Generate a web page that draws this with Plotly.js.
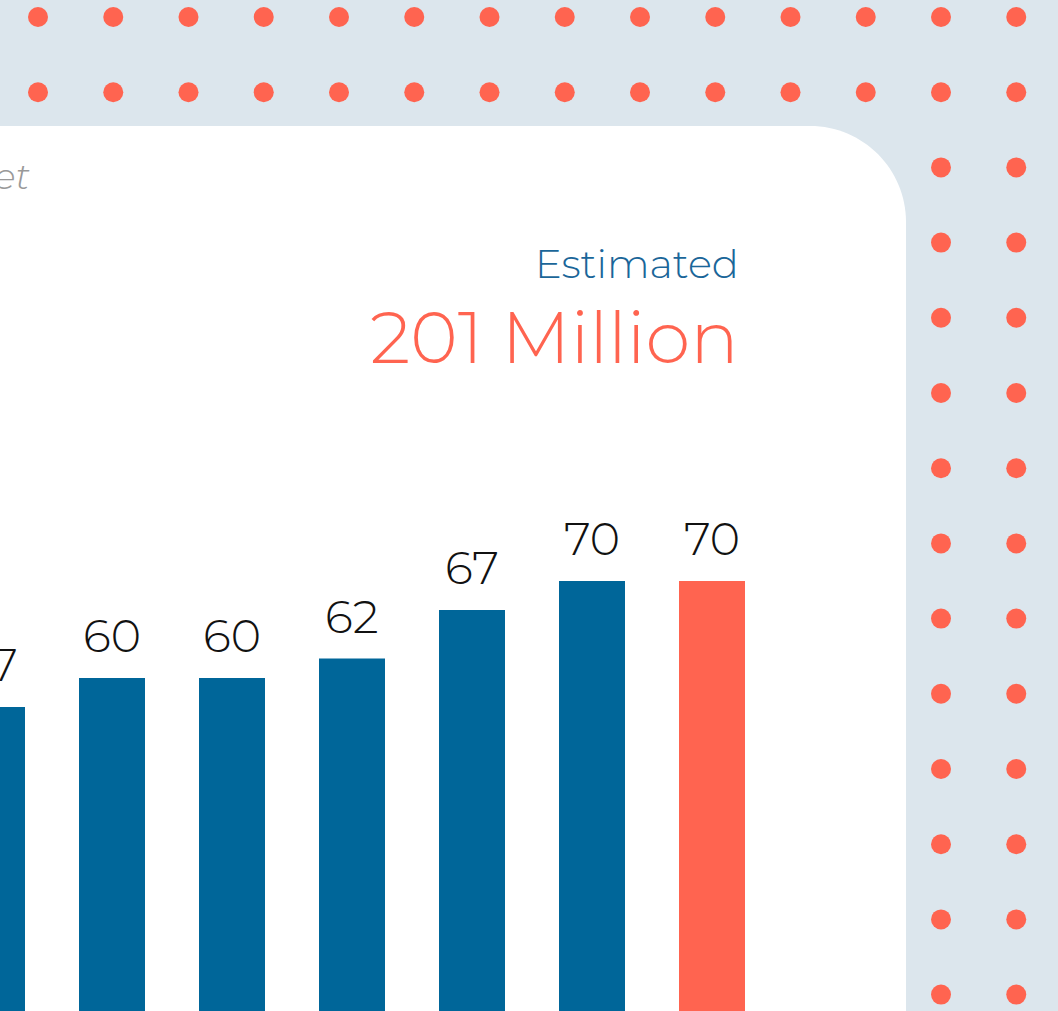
<!DOCTYPE html>
<html>
<head>
<meta charset="utf-8">
<script src="https://cdn.plot.ly/plotly-3.0.1.min.js"></script>
<style>
  html, body { margin: 0; padding: 0; background: #dce6ed; overflow: hidden; width: 1058px; height: 1011px; }
  #chart { width: 1158px; height: 1011px; margin-left: -100px; }
</style>
</head>
<body>
<div id="chart"></div>
<script>
// ---- Data ----
const categories = ["2016", "2017", "2018", "2019", "2020", "2021", "2022"];
const values = [57, 60, 60, 62, 67, 70, 70];
const barColors = ["#006699", "#006699", "#006699", "#006699", "#006699", "#006699", "#ff6450"];
const subtitleTail = "et";
const headlineLabel = "Estimated";
const headlineValue = "201 Million";

// ---- Layout helpers (page pixel -> paper) ----
const OX = 100;               // graph extends 100px left of the visible page
const GW = 1058 + OX, H = 1011;
const px = x => (x + OX) / GW;
const py = y => 1 - y / H;

const FONT = "Montserrat, Inter, 'Noto Sans', sans-serif";

const shapes = [];
// decorative dot grid
const dotStep = 75.2, dotR = 10;
for (let r = 0; r < 14; r++) {
  for (let c = 0; c < 14; c++) {
    const cx = 38 + c * 75.25, cy = 17 + r * dotStep;
    shapes.push({
      type: "circle", xref: "paper", yref: "paper", layer: "below",
      x0: px(cx - dotR), x1: px(cx + dotR), y0: py(cy + dotR), y1: py(cy - dotR),
      fillcolor: "#ff6450", line: { width: 0 }
    });
  }
}
// white panel with rounded top-right corner
const panelTop = 126, panelRight = 906, rad = 96, kk = 0.5523 * rad;
const panelPath = [
  `M ${px(-160)} ${py(1100)}`,
  `L ${px(-160)} ${py(panelTop)}`,
  `L ${px(panelRight - rad)} ${py(panelTop)}`,
  `C ${px(panelRight - rad + kk)} ${py(panelTop)} ${px(panelRight)} ${py(panelTop + rad - kk)} ${px(panelRight)} ${py(panelTop + rad)}`,
  `L ${px(panelRight)} ${py(1100)}`,
  "Z"
].join(" ");
shapes.push({ type: "path", xref: "paper", yref: "paper", layer: "below", path: panelPath, fillcolor: "#ffffff", line: { width: 0 } });

const annotations = [];
values.forEach((v, i) => {
  annotations.push({
    x: i, y: v, xref: "x", yref: "y",
    text: String(v), showarrow: false,
    xanchor: "center", yanchor: "bottom", yshift: 12,
    font: { family: FONT, size: 46, color: "#111111", weight: 300 }
  });
});
annotations.push({
  x: px(741), y: py(263), xref: "paper", yref: "paper", xanchor: "right", yanchor: "middle",
  text: headlineLabel, showarrow: false,
  font: { family: FONT, size: 40, color: "#1a6699", weight: 300 }
});
annotations.push({
  x: px(741), y: py(337), xref: "paper", yref: "paper", xanchor: "right", yanchor: "middle",
  text: headlineValue, showarrow: false,
  font: { family: FONT, size: 72, color: "#ff6450", weight: 300 }
});
annotations.push({
  x: px(32), y: py(176), xref: "paper", yref: "paper", xanchor: "right", yanchor: "middle",
  text: "<i>" + subtitleTail + "</i>", showarrow: false,
  font: { family: FONT, size: 36, color: "#999999", weight: 300 }
});

const trace = {
  type: "bar", x: categories, y: values,
  marker: { color: barColors, line: { width: 0 } },
  width: 0.55, hoverinfo: "none"
};

const xStart = -(OX - 8) / 120;
const layout = {
  width: GW, height: H,
  margin: { l: 0, r: 0, t: 0, b: 0, pad: 0 },
  paper_bgcolor: "#dce6ed",
  plot_bgcolor: "rgba(0,0,0,0)",
  showlegend: false,
  xaxis: { type: "category", range: [xStart, xStart + GW / 120], visible: false, fixedrange: true },
  yaxis: { range: [(1260 - H) / 9.7, 1260 / 9.7], visible: false, fixedrange: true },
  shapes: shapes,
  annotations: annotations
};

Plotly.newPlot("chart", [trace], layout, { displayModeBar: false, staticPlot: true });
</script>
</body>
</html>
